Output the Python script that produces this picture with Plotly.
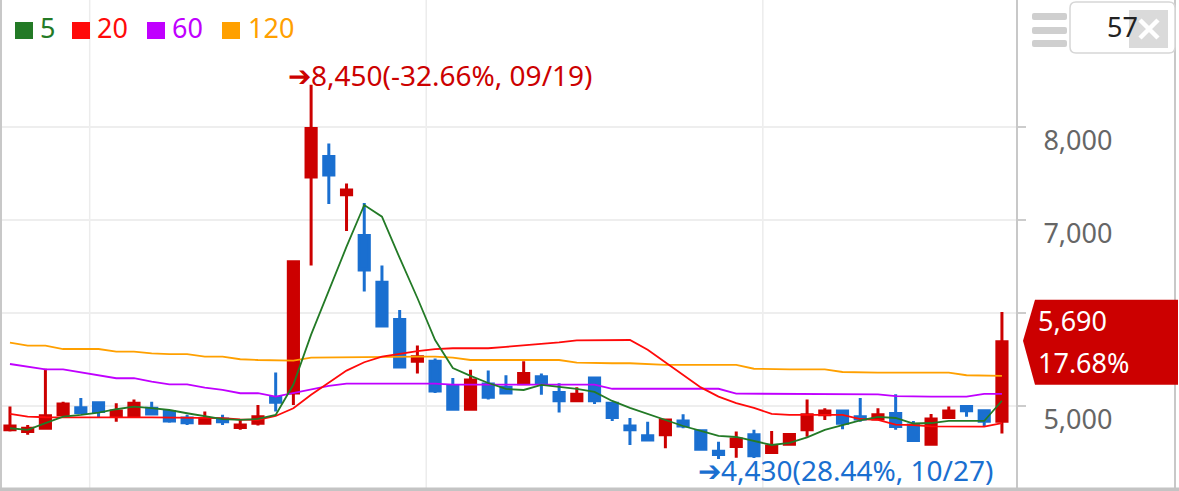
import plotly.graph_objects as go

# ---------------- data ----------------
dates = [
    "2023-08-25", "2023-08-28", "2023-08-29", "2023-08-30", "2023-08-31",
    "2023-09-01", "2023-09-04", "2023-09-05", "2023-09-06", "2023-09-07", "2023-09-08",
    "2023-09-11", "2023-09-12", "2023-09-13", "2023-09-14", "2023-09-15",
    "2023-09-18", "2023-09-19", "2023-09-20", "2023-09-21", "2023-09-22",
    "2023-09-25", "2023-09-26", "2023-09-27",
    "2023-10-04", "2023-10-05", "2023-10-06", "2023-10-10", "2023-10-11", "2023-10-12",
    "2023-10-13", "2023-10-16", "2023-10-17", "2023-10-18", "2023-10-19", "2023-10-20",
    "2023-10-23", "2023-10-24", "2023-10-25", "2023-10-26", "2023-10-27",
    "2023-10-30", "2023-10-31",
    "2023-11-01", "2023-11-02", "2023-11-03", "2023-11-06", "2023-11-07", "2023-11-08",
    "2023-11-09", "2023-11-10", "2023-11-13", "2023-11-14", "2023-11-15", "2023-11-16",
    "2023-11-17", "2023-11-20",
]
opens = [4745, 4725, 4760, 4905, 4980, 5035, 4895, 4895, 4975, 4940, 4870, 4815, 4860, 4770,
         4815, 5090, 5140, 7460, 7680, 7270, 6830, 6330, 5930, 5480, 5480, 5210, 4965, 5235,
         5200, 5240, 5315, 5145, 5055, 5300, 5030, 4785, 4680, 4690, 4840, 4735, 4515, 4565,
         4690, 4500, 4590, 4745, 4905, 4945, 4885, 4860, 4920, 4795, 4590, 4875, 4995, 4950,
         4835]
highs = [4995, 4795, 5400, 5045, 5085, 5040, 5030, 5070, 5045, 4950, 4905, 4940, 4905, 4850,
         5010, 5360, 6550, 8450, 7820, 7390, 7180, 6510, 6030, 5650, 5510, 5300, 5390, 5380,
         5330, 5480, 5350, 5245, 5200, 5305, 5035, 4870, 4830, 4855, 4910, 4740, 4615, 4725,
         4745, 4730, 4700, 5070, 4975, 4950, 5085, 4975, 5125, 4840, 4915, 4995, 5000, 4955,
         6010]
lows = [4725, 4690, 4755, 4895, 4925, 4880, 4830, 4885, 4915, 4820, 4795, 4810, 4795, 4745,
        4790, 4940, 5010, 6510, 7170, 6880, 6230, 5850, 5420, 5350, 5140, 4960, 4960, 5070,
        5130, 5230, 5120, 4930, 5050, 5020, 4840, 4580, 4630, 4545, 4760, 4520, 4430, 4445,
        4440, 4495, 4585, 4670, 4850, 4750, 4830, 4850, 4745, 4620, 4585, 4870, 4885, 4785,
        4705]
closes = [4785, 4760, 4895, 5020, 4930, 4940, 4945, 5030, 4915, 4840, 4820, 4860, 4830, 4795,
          4885, 5040, 6550, 7980, 7480, 7320, 6460, 5860, 5420, 5530, 5160, 4965, 5280, 5095,
          5140, 5350, 5250, 5055, 5125, 5055, 4875, 4745, 4635, 4850, 4785, 4535, 4480, 4645,
          4465, 4570, 4695, 4905, 4945, 4815, 4860, 4905, 4780, 4630, 4860, 4945, 4950, 4835,
          5690]

ma5 = [4761, 4743, 4815, 4885, 4904, 4928, 4965, 4993, 4976, 4957, 4922, 4893, 4858, 4850,
       4861, 4904, 5230, 5766, 6239, 6711, 7159, 7033, 6590, 6160, 5709, 5408, 5323, 5247,
       5183, 5172, 5226, 5205, 5183, 5151, 5054, 4979, 4915, 4845, 4785, 4732, 4678, 4667,
       4624, 4581, 4603, 4662, 4743, 4796, 4845, 4882, 4871, 4812, 4817, 4839, 4839, 4839,
       5056]
ma20 = [4915, 4885, 4879, 4877, 4877, 4877, 4877, 4877, 4877, 4877, 4877, 4877, 4870, 4855,
        4850, 4893, 4976, 5120, 5250, 5380, 5470, 5530, 5560, 5590, 5610, 5620, 5620, 5620,
        5635, 5650, 5665, 5684, 5705, 5709, 5709, 5709, 5605, 5470, 5330, 5200, 5100, 5030,
        4980, 4915, 4904, 4904, 4904, 4904, 4860, 4850, 4800, 4796, 4780, 4778, 4778, 4778,
        4815]
ma60 = [5451, 5422, 5394, 5394, 5362, 5333, 5298, 5298, 5261, 5233, 5233, 5197, 5172, 5137,
        5137, 5100, 5137, 5180, 5215, 5240, 5240, 5240, 5240, 5240, 5240, 5230, 5230, 5230,
        5230, 5230, 5230, 5230, 5230, 5230, 5185, 5185, 5185, 5185, 5185, 5185, 5185, 5133,
        5133, 5133, 5133, 5133, 5133, 5133, 5133, 5125, 5105, 5100, 5100, 5100, 5100, 5129,
        5129]
ma120 = [5680, 5648, 5648, 5612, 5612, 5612, 5584, 5584, 5566, 5556, 5556, 5530, 5530, 5502,
         5494, 5494, 5487, 5519, 5522, 5525, 5528, 5530, 5530, 5530, 5530, 5520, 5494, 5494,
         5494, 5494, 5494, 5494, 5465, 5459, 5459, 5459, 5450, 5441, 5441, 5441, 5441, 5441,
         5400, 5394, 5394, 5394, 5394, 5365, 5358, 5358, 5358, 5358, 5358, 5358, 5330, 5323,
         5323]

ma_names = ["5", "20", "60", "120"]
ma_colors = ["#237a26", "#ff0a0a", "#c000ff", "#ffa000"]
y_ticks = [5000, 6000, 7000, 8000]
y_range = [4119, 9361]

# ---------------- layout helpers ----------------
W, H = 1179, 491
ML, MR, MT, MB = 2, 162, 0, 3
PW = W - ML - MR
PH = H - MT - MB
FONT = "Noto Sans"
UP = "#cc0000"
DOWN = "#1a6fd0"


def px(x):
    return (x - ML) / PW


def py(y):
    return 1 - (y - MT) / PH


def pix_path(d, fill=None, line_color=None, lw=0, layer="above"):
    """path in figure pixel coordinates (y down), anchored at figure top-left"""
    return dict(type="path", xref="paper", yref="paper", xsizemode="pixel", ysizemode="pixel",
                xanchor=px(0), yanchor=py(0), path=d, fillcolor=fill or "rgba(0,0,0,0)",
                line=dict(color=line_color or "rgba(0,0,0,0)", width=lw), layer=layer)


def rect(x0, y0, x1, y1):
    return f"M{x0},{-y0} L{x1},{-y0} L{x1},{-y1} L{x0},{-y1} Z"


def rrect(x0, y0, x1, y1, r):
    return (f"M{x0 + r},{-y0} L{x1 - r},{-y0} Q{x1},{-y0} {x1},{-(y0 + r)} "
            f"L{x1},{-(y1 - r)} Q{x1},{-y1} {x1 - r},{-y1} L{x0 + r},{-y1} "
            f"Q{x0},{-y1} {x0},{-(y1 - r)} L{x0},{-(y0 + r)} Q{x0},{-y0} {x0 + r},{-y0} Z")


fig = go.Figure()

# moving averages (drawn below candles)
for name, vals, col in reversed(list(zip(ma_names, [ma5, ma20, ma60, ma120], ma_colors))):
    fig.add_trace(go.Scatter(x=dates, y=vals, mode="lines", name=name,
                             line=dict(color=col, width=1.8), hoverinfo="skip",
                             showlegend=False))

fig.add_trace(go.Candlestick(
    x=dates, open=opens, high=highs, low=lows, close=closes,
    increasing=dict(line=dict(color=UP, width=3), fillcolor=UP),
    decreasing=dict(line=dict(color=DOWN, width=3), fillcolor=DOWN),
    whiskerwidth=0, showlegend=False, hoverinfo="skip"))

shapes = []
# month separators
for i in range(1, len(dates)):
    if dates[i][:7] != dates[i - 1][:7]:
        shapes.append(dict(type="line", xref="x", yref="paper", x0=i - 0.5, x1=i - 0.5,
                           y0=0, y1=1, line=dict(color="#ececec", width=1.5), layer="below"))

# frame lines
shapes.append(pix_path(rect(0, 0, 2, 491), fill="#c8c8c8"))
shapes.append(pix_path(rect(1016, 0, 1018, 491), fill="#c8c8c8"))
shapes.append(pix_path(rect(1174, 0, 1176, 491), fill="#c8c8c8"))
shapes.append(pix_path(rect(0, 487.5, 1179, 491), fill="#c4c4c4"))

# legend squares
leg_sq_x = [15, 72, 147, 222]
leg_tx_x = [38, 95, 170, 246]
for sx, col in zip(leg_sq_x, ma_colors):
    shapes.append(pix_path(rect(sx, 22, sx + 18, 39), fill=col))

# top-right controls
for yb in (13, 27, 40):
    shapes.append(pix_path(rrect(1032, yb, 1067, yb + 7, 2), fill="#cfcfcf"))
shapes.append(pix_path(rrect(1070, 2, 1175, 53, 6), fill="#ffffff", line_color="#d6d6d6", lw=1.5))
shapes.append(pix_path(rect(1129, 10, 1168, 48), fill="#dadada"))
shapes.append(pix_path("M1140,-20 L1158,-38 M1158,-20 L1140,-38", line_color="#ffffff", lw=4.5))

# current price flag
last_close = closes[-1]
prev_close = closes[-2]
shapes.append(dict(type="path", xref="paper", yref="y", xsizemode="pixel", ysizemode="pixel",
                   xanchor=1, yanchor=last_close,
                   path="M6,1 L18,42 L161,42 L161,-43 L18,-43 Z",
                   fillcolor=UP, line=dict(width=0), layer="above"))

annotations = []
for name, col, tx in zip(ma_names, ma_colors, leg_tx_x):
    annotations.append(dict(xref="paper", yref="paper", x=px(tx), y=py(28), xanchor="left",
                            yanchor="middle", text=name, showarrow=False,
                            font=dict(family=FONT, size=27, color=col)))

annotations.append(dict(xref="paper", yref="paper", x=px(1122), y=py(27), xanchor="center",
                        yanchor="middle", text=str(len(dates)), showarrow=False,
                        font=dict(family=FONT, size=27, color="#222222")))

chg = (last_close / prev_close - 1) * 100
annotations.append(dict(xref="paper", yref="y", x=1, y=last_close, xanchor="left",
                        yanchor="middle", xshift=19, yshift=21, text=f"{last_close:,}",
                        showarrow=False, font=dict(family=FONT, size=27, color="#ffffff")))
annotations.append(dict(xref="paper", yref="y", x=1, y=last_close, xanchor="left",
                        yanchor="middle", xshift=19, yshift=-21, text=f"{chg:.2f}%",
                        showarrow=False, font=dict(family=FONT, size=27, color="#ffffff")))

# high / low markers
hi = max(highs)
hi_i = highs.index(hi)
lo = min(lows)
lo_i = lows.index(lo)
hi_pct = (last_close / hi - 1) * 100
lo_pct = (last_close / lo - 1) * 100
hi_d = dates[hi_i][5:].replace("-", "/")
lo_d = dates[lo_i][5:].replace("-", "/")
annotations.append(dict(xref="x", yref="y", x=dates[hi_i], y=hi, xanchor="left",
                        yanchor="middle", xshift=-25, yshift=10,
                        text=f"➔{hi:,}({hi_pct:.2f}%, {hi_d})", showarrow=False,
                        font=dict(family=FONT, size=28, color="#cc0000")))
annotations.append(dict(xref="x", yref="y", x=dates[lo_i], y=lo, xanchor="left",
                        yanchor="middle", xshift=-23, yshift=-11,
                        text=f"➔{lo:,}({lo_pct:.2f}%, {lo_d})", showarrow=False,
                        font=dict(family=FONT, size=28, color="#1a6fd0")))

fig.update_layout(
    width=W, height=H,
    margin=dict(l=ML, r=MR, t=MT, b=MB, pad=0),
    paper_bgcolor="#ffffff", plot_bgcolor="#ffffff",
    showlegend=False, hovermode=False, dragmode=False,
    shapes=shapes, annotations=annotations,
    font=dict(family=FONT),
    boxgap=0.18,
    xaxis=dict(type="category", range=[-0.45, len(dates) - 0.15], showticklabels=False,
               showgrid=False, zeroline=False, showline=False, ticks="",
               rangeslider=dict(visible=False), fixedrange=True),
    yaxis=dict(side="right", range=y_range, tickvals=y_ticks,
               ticktext=[f"{v:,}" if v != 6000 else "" for v in y_ticks],
               showgrid=True, gridcolor="#eeeeee", gridwidth=1.5, zeroline=False,
               showline=False, ticks="outside", ticklen=8, tickcolor="#cccccc", tickwidth=1.5,
               tickfont=dict(family=FONT, size=27, color="#666666"),
               ticklabelshift=14, ticklabelstandoff=12, fixedrange=True),
)

fig.write_html("out.html", config={"displayModeBar": False},
               post_script="document.body.style.margin='0px';document.body.style.overflow='hidden';")
